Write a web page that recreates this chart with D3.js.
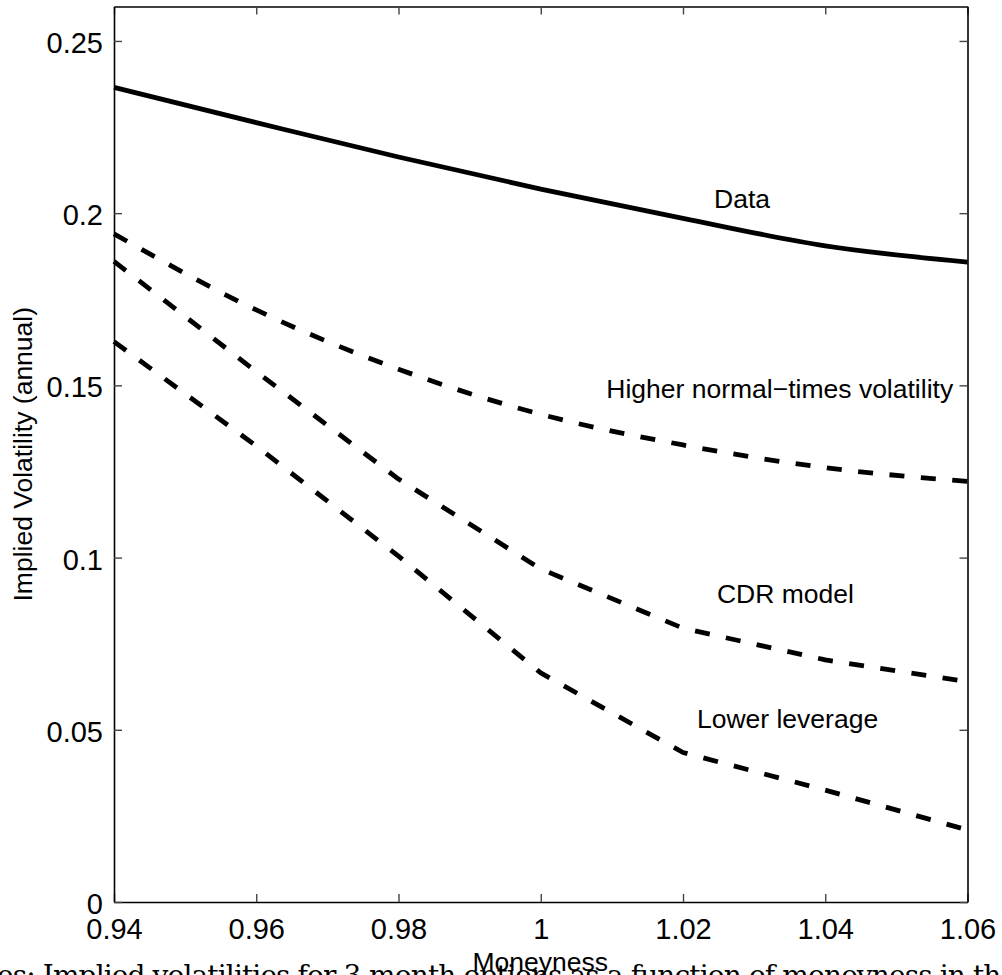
<!DOCTYPE html>
<html>
<head>
<meta charset="utf-8">
<script src="https://cdn.jsdelivr.net/npm/d3@7"></script>
<style>
  html, body { margin: 0; padding: 0; background: #fff; overflow: hidden; }
  svg { display: block; }
</style>
</head>
<body>
<script>
// Moneyness grid and implied volatility curves (annualised)
const moneyness = [0.94, 0.96, 0.98, 1.00, 1.02, 1.04, 1.06];
const dataVol   = [0.2365, 0.2263, 0.2163, 0.2070, 0.1985, 0.1905, 0.1858];
const higherNormalVol = [0.1940, 0.1719, 0.1547, 0.1416, 0.1327, 0.1261, 0.1221];
const cdrModelVol     = [0.1860, 0.1540, 0.1228, 0.0967, 0.0795, 0.0703, 0.0640];
const lowerLeverageVol = [0.1627, 0.1324, 0.1004, 0.0665, 0.0434, 0.0325, 0.0209];

const xTicks = [0.94, 0.96, 0.98, 1.00, 1.02, 1.04, 1.06];
const xTickLabels = ["0.94", "0.96", "0.98", "1", "1.02", "1.04", "1.06"];
const yTicks = [0, 0.05, 0.1, 0.15, 0.2, 0.25];
const yTickLabels = ["0", "0.05", "0.1", "0.15", "0.2", "0.25"];

const seriesNames = ["Data", "Higher normal\u2212times volatility", "CDR model", "Lower leverage"];
const captionText = "es:  Implied volatilities for 3-month options as a function of moneyness in the";

const W = 1002, H = 975;
const plot = { left: 114, right: 967.5, top: 6.5, bottom: 902 };

const svg = d3.select("body").append("svg")
  .attr("width", W).attr("height", H);

const x = d3.scaleLinear().domain([0.94, 1.06]).range([plot.left, plot.right]);
const y = d3.scaleLinear().domain([0, 0.26]).range([plot.bottom, plot.top]);

const sans = "'Liberation Sans', Arial, Helvetica, sans-serif";

// Curves
const series = [
  { name: seriesNames[0], values: dataVol, dashed: false, curve: d3.curveMonotoneX },
  { name: seriesNames[1], values: higherNormalVol, dashed: true, curve: d3.curveMonotoneX },
  { name: seriesNames[2], values: cdrModelVol, dashed: true, curve: d3.curveLinear },
  { name: seriesNames[3], values: lowerLeverageVol, dashed: true, curve: d3.curveLinear }
];

const gLines = svg.append("g");
series.forEach(s => {
  const line = d3.line()
    .x((d, i) => x(moneyness[i]))
    .y(d => y(d))
    .curve(s.curve);
  gLines.append("path")
    .datum(s.values)
    .attr("d", line)
    .attr("fill", "none")
    .attr("stroke", "#000")
    .attr("stroke-width", 4.8)
    .attr("stroke-linejoin", "round")
    .attr("stroke-dasharray", s.dashed ? "15,16.5" : null);
});

// Axes: ticks point inward on all four sides (boxed frame)
const tickLen = 8;
const axisBottom = d3.axisBottom(x).tickValues(xTicks)
  .tickFormat((d, i) => xTickLabels[i]).tickSizeInner(-tickLen).tickSizeOuter(0).tickPadding(16);
const axisTop = d3.axisTop(x).tickValues(xTicks)
  .tickFormat("").tickSizeInner(-tickLen).tickSizeOuter(0);
const axisLeft = d3.axisLeft(y).tickValues(yTicks)
  .tickFormat((d, i) => yTickLabels[i]).tickSizeInner(-tickLen).tickSizeOuter(0).tickPadding(11);
const axisRight = d3.axisRight(y).tickValues(yTicks)
  .tickFormat("").tickSizeInner(-tickLen).tickSizeOuter(0);

function styleAxis(g) {
  g.select(".domain").attr("stroke", "#000").attr("stroke-width", 1.6);
  g.selectAll(".tick line").attr("stroke", "#444").attr("stroke-width", 1.4);
  g.selectAll(".tick text").attr("fill", "#000")
    .style("font-family", sans).style("font-size", "29px");
}

svg.append("g").attr("transform", `translate(0,${plot.bottom})`).call(axisBottom).call(styleAxis);
svg.append("g").attr("transform", `translate(0,${plot.top})`).call(axisTop).call(styleAxis);
svg.append("g").attr("transform", `translate(${plot.left},0)`).call(axisLeft).call(styleAxis)
  .selectAll(".tick text").attr("dy", "0.40em");
svg.append("g").attr("transform", `translate(${plot.right},0)`).call(axisRight).call(styleAxis);

// Series annotations
const annotations = [
  { text: seriesNames[0], mx: 1.0283, v: 0.2015 },
  { text: seriesNames[1], mx: 1.0336, v: 0.1463 },
  { text: seriesNames[2], mx: 1.0344, v: 0.0868 },
  { text: seriesNames[3], mx: 1.0347, v: 0.0505 }
];
svg.append("g").selectAll("text")
  .data(annotations)
  .join("text")
  .attr("x", d => x(d.mx))
  .attr("y", d => y(d.v))
  .attr("text-anchor", "middle")
  .style("font-family", sans)
  .style("font-size", "26.5px")
  .attr("fill", "#000")
  .text(d => d.text);

// Axis titles
svg.append("text")
  .attr("transform", `translate(32,${(plot.top + plot.bottom) / 2}) rotate(-90)`)
  .attr("text-anchor", "middle")
  .style("font-family", sans).style("font-size", "26.5px")
  .text("Implied Volatility (annual)");

// Caption of the surrounding document, partly visible below the chart
svg.append("text")
  .attr("x", -3)
  .attr("y", 985)
  .attr("textLength", 1020)
  .attr("lengthAdjust", "spacing")
  .style("font-family", "'DejaVu Serif', 'Liberation Serif', serif")
  .style("font-size", "28px")
  .attr("fill", "#000")
  .text(captionText);

svg.append("text")
  .attr("x", (plot.left + plot.right) / 2 - 0.5)
  .attr("y", 971)
  .attr("text-anchor", "middle")
  .style("font-family", sans).style("font-size", "26.5px")
  .text("Moneyness");
</script>
</body>
</html>
